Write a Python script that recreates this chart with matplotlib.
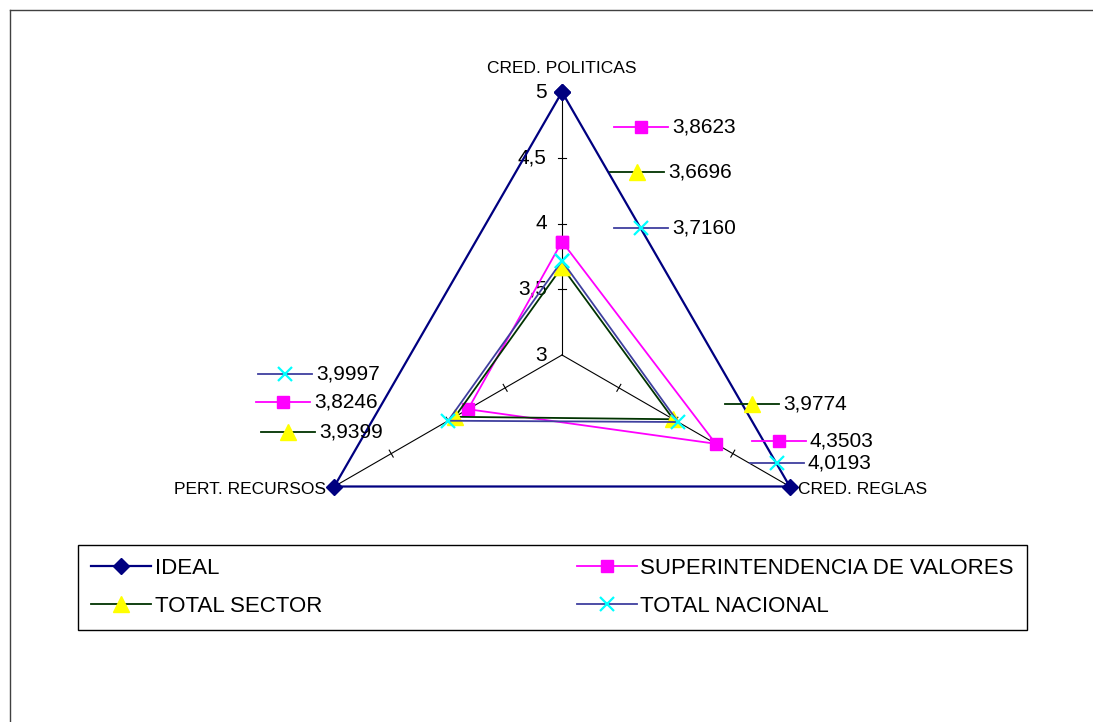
import numpy as np
import matplotlib
matplotlib.use("Agg")
import matplotlib.pyplot as plt
from matplotlib.lines import Line2D

plt.rcParams["font.family"] = ["Liberation Sans", "DejaVu Sans"]

# ---- data -------------------------------------------------------------
categories = ["CRED. POLITICAS", "CRED. REGLAS", "PERT. RECURSOS"]
ideal = [5.0, 5.0, 5.0]
superintendencia = [3.8623, 4.3503, 3.8246]
total_sector = [3.6696, 3.9774, 3.9399]
total_nacional = [3.7160, 4.0193, 3.9997]
r_ticks = [3, 3.5, 4, 4.5, 5]

W, H = 1093, 722


def fx(px):
    return px / W


def fy(py):
    # pixel rows are counted from the top
    return 1 - py / H


styles = {
    "IDEAL": dict(color="#000080", lw=1.6, marker="D", ms=8,
                  mfc="#000080", mec="#000080"),
    "SUPERINTENDENCIA DE VALORES": dict(color="#ff00ff", lw=1.3, marker="s",
                                        ms=9, mfc="#ff00ff", mec="#ff00ff"),
    "TOTAL SECTOR": dict(color="#003300", lw=1.3, marker="^", ms=11,
                         mfc="#ffff00", mec="#ffff00"),
    "TOTAL NACIONAL": dict(color="#3f3f9f", lw=1.3, marker="x", ms=10,
                           mfc="#00ffff", mec="#00ffff", mew=1.6),
}
series = {
    "IDEAL": ideal,
    "SUPERINTENDENCIA DE VALORES": superintendencia,
    "TOTAL SECTOR": total_sector,
    "TOTAL NACIONAL": total_nacional,
}

fig = plt.figure(figsize=(W / 100, H / 100), dpi=100)

# outer frame (cut at right and bottom like the original)
fig.add_artist(Line2D([fx(10), 1], [fy(10), fy(10)], color="#404040", lw=1,
                      transform=fig.transFigure))
fig.add_artist(Line2D([fx(10), fx(10)], [0, fy(10)], color="#404040", lw=1,
                      transform=fig.transFigure))

# radar axes: centre (562, 355) px, radius 263 px
R = 263
ax = fig.add_axes([fx(562 - R), fy(355 + R), 2 * R / W, 2 * R / H],
                  projection="polar")
ax.set_theta_zero_location("N")
ax.set_theta_direction(-1)
ax.set_ylim(3, 5)
ax.grid(False)
ax.set_xticks([])
ax.set_yticks([])
ax.spines["polar"].set_visible(False)
ax.patch.set_alpha(0)

angles = np.linspace(0, 2 * np.pi, len(categories), endpoint=False)

# spokes and tick marks
for ang in angles:
    ax.plot([ang, ang], [3, 5], color="black", lw=0.8, zorder=1)
    for rv in r_ticks[1:-1]:
        dth = 4 / (R * (rv - 3) / 2)
        ax.plot([ang - dth, ang + dth], [rv, rv], color="black", lw=0.8,
                zorder=1)

for rv in r_ticks:
    ax.annotate(f"{rv:g}".replace(".", ","), xy=(0, rv), xytext=(-11, 0),
                textcoords="offset points", ha="right", va="center",
                fontsize=15)

closed = np.append(angles, angles[0])
handles = {}
for name, vals in series.items():
    v = np.append(vals, vals[0])
    (ln,) = ax.plot(closed, v, label=name, zorder=3, clip_on=False,
                    **styles[name])
    handles[name] = ln

# category labels
ax.annotate(categories[0], xy=(angles[0], 5), xytext=(0, 17),
            textcoords="offset points", ha="center", va="center", fontsize=12.5)
ax.annotate(categories[1], xy=(angles[1], 5), xytext=(6, -2),
            textcoords="offset points", ha="left", va="center", fontsize=12.5)
ax.annotate(categories[2], xy=(angles[2], 5), xytext=(-6, -2),
            textcoords="offset points", ha="right", va="center", fontsize=12.5)

# data labels with legend keys (layout: key centre x, y in px)
label_pos = {
    ("SUPERINTENDENCIA DE VALORES", 0): (641, 127),
    ("TOTAL SECTOR", 0): (637, 172),
    ("TOTAL NACIONAL", 0): (641, 228),
    ("TOTAL SECTOR", 1): (752, 404),
    ("SUPERINTENDENCIA DE VALORES", 1): (779, 441),
    ("TOTAL NACIONAL", 1): (777, 463),
    ("TOTAL NACIONAL", 2): (285, 374),
    ("SUPERINTENDENCIA DE VALORES", 2): (283, 402),
    ("TOTAL SECTOR", 2): (288, 432),
}
for (name, i), (cx, cy) in label_pos.items():
    st = dict(styles[name])
    fig.add_artist(Line2D([fx(cx - 27), fx(cx + 27)], [fy(cy), fy(cy)],
                          transform=fig.transFigure, **st,
                          markevery=[], zorder=4))
    st.pop("lw")
    fig.add_artist(Line2D([fx(cx)], [fy(cy)], transform=fig.transFigure,
                          lw=0, zorder=5, **st))
    fig.text(fx(cx + 31), fy(cy), f"{series[name][i]:.4f}".replace(".", ","),
             ha="left", va="center", fontsize=15)

order = ["IDEAL", "TOTAL SECTOR", "SUPERINTENDENCIA DE VALORES",
         "TOTAL NACIONAL"]
leg = fig.legend([handles[n] for n in order], order, ncol=2,
                 loc="lower left", mode="expand",
                 bbox_to_anchor=(fx(78), fy(630), fx(1027) - fx(78),
                                 fy(545) - fy(630)),
                 borderaxespad=0, fontsize=16, handlelength=2.7,
                 handletextpad=0.15, labelspacing=0.75, borderpad=0.6,
                 fancybox=False, edgecolor="black", framealpha=1)
leg.get_frame().set_linewidth(1)

fig.savefig("out.png", dpi=100)
